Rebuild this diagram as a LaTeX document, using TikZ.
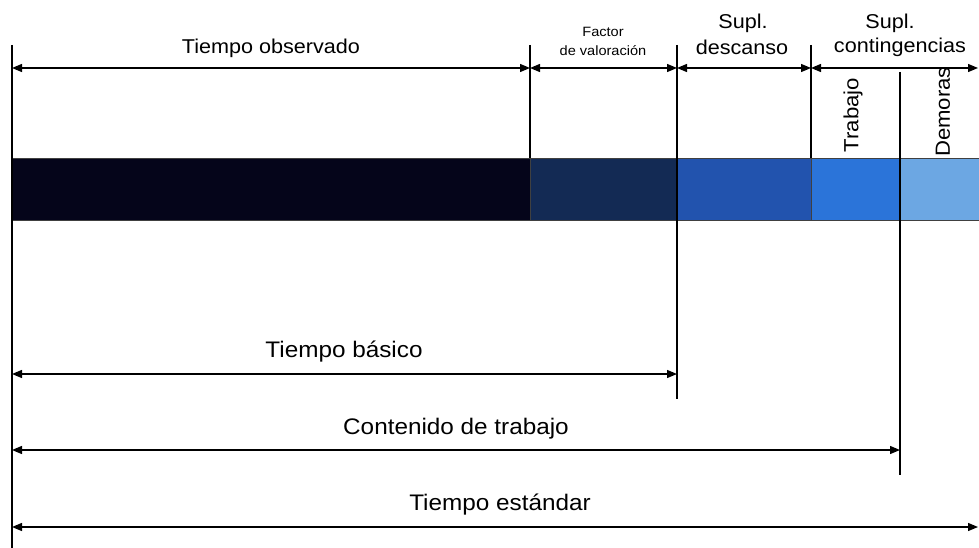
\documentclass[tikz,border=0pt]{standalone}
\usepackage{fontspec}
\setmainfont[FakeStretch=1.08]{Liberation Sans}
\usetikzlibrary{arrows.meta}
\definecolor{segA}{HTML}{05051A}
\definecolor{segB}{HTML}{132A54}
\definecolor{segC}{HTML}{2253AE}
\definecolor{segD}{HTML}{2B74D9}
\definecolor{segE}{HTML}{6CA7E3}
\begin{document}
\begin{tikzpicture}[x=1pt,y=-1pt,
  dimline/.style={line width=1.3pt,{Triangle[length=10pt,width=8pt]}-{Triangle[length=10pt,width=8pt]}},
  tick/.style={line width=1.2pt},
  thicktick/.style={line width=2.4pt},
  seg/.style={draw=black!75,line width=0.8pt,inner sep=0pt,anchor=north west,minimum height=62pt},
  big/.style={font=\fontsize{22.5}{27}\selectfont,inner sep=0pt},
  mid/.style={font=\fontsize{20}{24}\selectfont,inner sep=0pt},
  small/.style={font=\fontsize{13.5}{16}\selectfont,inner sep=0pt},
  vert/.style={font=\fontsize{20.5}{24}\selectfont,inner sep=0pt,rotate=90}]
\useasboundingbox (0,0) rectangle (979,548);
% bar segments
\node[seg,fill=segA,minimum width=518pt] (b1) at (12,158) {};
\node[seg,fill=segB,minimum width=147pt] (b2) at (530,158) {};
\node[seg,fill=segC,minimum width=134pt] (b3) at (677,158) {};
\node[seg,fill=segD,minimum width=89pt] (b4) at (811,158) {};
\node[seg,fill=segE,minimum width=80pt] (b5) at (900,158) {};
% tick coordinates
\coordinate (t0a) at (12,45);   \coordinate (t0b) at (12,548);
\coordinate (t1a) at (530,45);  \coordinate (t1b) at (530,158);
\coordinate (t2a) at (677,45);  \coordinate (t2b) at (677,399);
\coordinate (t3a) at (811,45);  \coordinate (t3b) at (811,158);
\coordinate (t4a) at (900,72);  \coordinate (t4b) at (900,475);
\draw[tick] (t0a) -- (t0b);
\draw[tick] (t1a) -- (t1b);
\draw[tick] (t2a) -- (t2b);
\draw[tick] (t3a) -- (t3b);
\draw[thicktick] (t4a) -- (t4b);
% top dimension arrows
\coordinate (a0) at (12,68);
\coordinate (a1) at (530,68);
\coordinate (a2) at (677,68);
\coordinate (a3) at (811,68);
\coordinate (a4) at (978,68);
\draw[dimline] (a0) -- (a1);
\draw[dimline] (a1) -- (a2);
\draw[dimline] (a2) -- (a3);
\draw[dimline] (a3) -- (a4);
% bottom dimension arrows
\coordinate (d0) at (12,374);  \coordinate (d1) at (677,374);
\coordinate (e0) at (12,450);  \coordinate (e1) at (900,450);
\coordinate (f0) at (12,527);  \coordinate (f1) at (978,527);
\draw[dimline] (d0) -- (d1);
\draw[dimline] (e0) -- (e1);
\draw[dimline] (f0) -- (f1);
% labels
\node[mid] (lobs) at (271,48) {Tiempo observado};
\node[small] (lfac1) at (603,32) {Factor};
\node[small] (lfac2) at (603,51) {de valoración};
\node[mid] (ldes1) at (743,23) {Supl.};
\node[mid] (ldes2) at (742,47) {descanso};
\node[mid] (lcon1) at (890,23) {Supl.};
\node[mid] (lcon2) at (900,47) {contingencias};
\node[vert] (ltra) at (853,115) {Trabajo};
\node[vert] (ldem) at (943,112) {Demoras};
\node[big] (lbas) at (344,352) {Tiempo básico};
\node[big] (lcont) at (456,429) {Contenido de trabajo};
\node[big] (lest) at (500,505) {Tiempo estándar};
\end{tikzpicture}
\end{document}
